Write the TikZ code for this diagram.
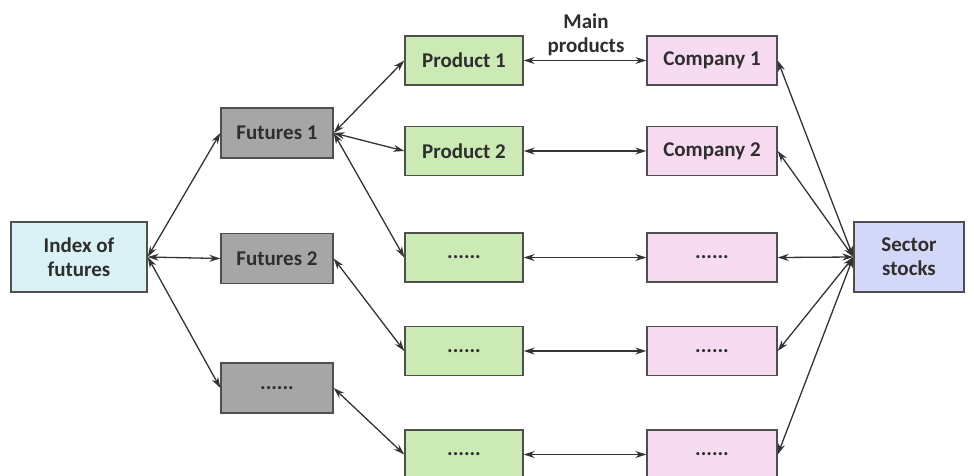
\documentclass[tikz,border=0pt]{standalone}
\usepackage{fontspec}
\setmainfont{Carlito}
\usetikzlibrary{arrows.meta}
\definecolor{txt}{HTML}{2E2E2E}
\definecolor{bd}{HTML}{4F4F4F}
\definecolor{cyanf}{HTML}{DAF2F5}
\definecolor{grayf}{HTML}{A6A6A6}
\definecolor{greenf}{HTML}{CCEBB4}
\definecolor{pinkf}{HTML}{F7DBF0}
\definecolor{lavf}{HTML}{D4D8F8}
\definecolor{ln}{HTML}{333333}
\tikzset{
  box/.style={draw=bd, line width=1.4pt, inner sep=0pt, align=center,
    font=\fontsize{21}{24}\selectfont\bfseries, text=txt},
  futbox/.style={box, fill=grayf, minimum width=112pt, minimum height=50pt},
  prodbox/.style={box, fill=greenf, minimum width=118pt, minimum height=49pt},
  compbox/.style={box, fill=pinkf, minimum width=130pt, minimum height=49pt},
  link/.style={draw=ln, line width=1.3pt, {Stealth[length=11pt,width=7pt]}-{Stealth[length=11pt,width=7pt]}}
}
\begin{document}
\begin{tikzpicture}[x=1pt,y=-1pt]
\useasboundingbox (0,0) rectangle (974,475);
\clip (0,0) rectangle (974,475);
\node[box, fill=cyanf, minimum width=136pt, minimum height=70pt] (idx) at (79,257) {Index of\\futures};
\node[futbox] (f1) at (277,133) {Futures 1};
\node[futbox] (f2) at (277,258.5) {Futures 2};
\node[futbox] (f3) at (277,388) {......};
\node[prodbox] (p1) at (464,60.5) {Product 1};
\node[prodbox] (p2) at (464,151) {Product 2};
\node[prodbox] (p3) at (464,257.5) {......};
\node[prodbox] (p4) at (464,351) {......};
\node[prodbox] (p5) at (464,454.5) {......};
\node[compbox] (c1) at (712,60.5) {Company 1};
\node[compbox] (c2) at (712,151) {Company 2};
\node[compbox] (c3) at (712,257.5) {......};
\node[compbox] (c4) at (712,351) {......};
\node[compbox] (c5) at (712,454.5) {......};
\node[box, fill=lavf, minimum width=110pt, minimum height=70pt] (sec) at (909,257) {Sector\\stocks};
\node[font=\fontsize{21}{24}\selectfont\bfseries, text=txt, align=center, inner sep=0pt] (mp) at (586,35) {Main\\products};
\draw[link] (idx.east) -- (f1.west);
\draw[link] (idx.east) -- (f2.west);
\draw[link] (idx.east) -- (f3.west);
\draw[link] (f1.east) -- (p1.west);
\draw[link] (f1.east) -- (p2.west);
\draw[link] (f1.east) -- (p3.west);
\draw[link] (f2.east) -- (p4.west);
\draw[link] (f3.east) -- (p5.west);
\draw[link] (p1.east) -- (c1.west);
\draw[link] (p2.east) -- (c2.west);
\draw[link] (p3.east) -- (c3.west);
\draw[link] (p4.east) -- (c4.west);
\draw[link] (p5.east) -- (c5.west);
\draw[link] (c1.east) -- (sec.west);
\draw[link] (c2.east) -- (sec.west);
\draw[link] (c3.east) -- (sec.west);
\draw[link] (c4.east) -- (sec.west);
\draw[link] (c5.east) -- (sec.west);
\end{tikzpicture}
\end{document}
